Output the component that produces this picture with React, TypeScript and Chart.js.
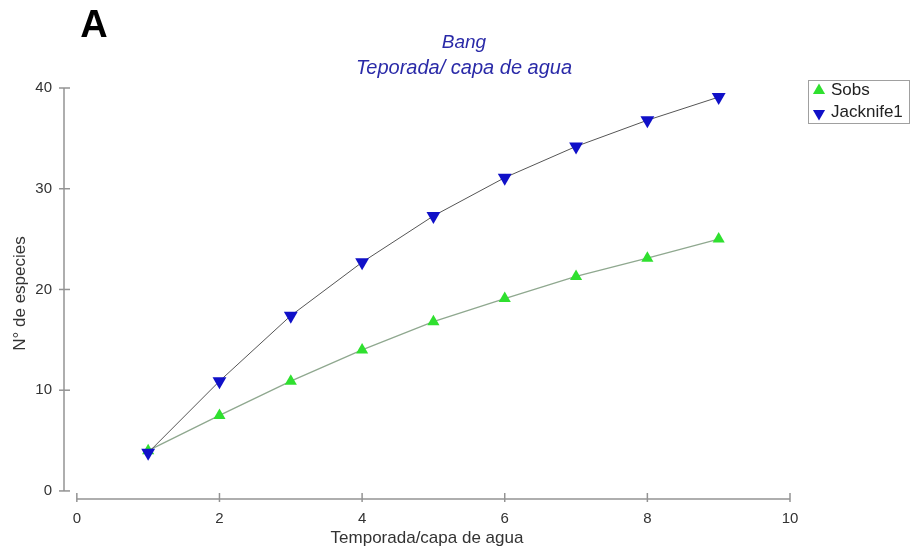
import React, { useEffect, useRef } from "react";
import { Chart, registerables } from "chart.js";

Chart.register(...registerables);

const xValues = [1, 2, 3, 4, 5, 6, 7, 8, 9];
const sobs = [4.0, 7.5, 10.9, 14.0, 16.8, 19.1, 21.3, 23.1, 25.0];
const jacknife1 = [3.8, 10.9, 17.4, 22.7, 27.3, 31.1, 34.2, 36.8, 39.1];
const seriesNames = ["Sobs", "Jacknife1"];
const panelLetter = "A";
const titleText = "Bang";
const subtitleText = "Teporada/ capa de agua";
const xTitle = "Temporada/capa de agua";
const yTitle = "N° de especies";
const xTicks = [0, 2, 4, 6, 8, 10];
const yTicks = [0, 10, 20, 30, 40];

const FONT = "'Liberation Sans', Arial, sans-serif";

function tri(ctx: CanvasRenderingContext2D, x: number, y: number, r: number, down: boolean, color: string) {
  ctx.save();
  ctx.fillStyle = color;
  ctx.beginPath();
  const s = down ? -1 : 1;
  ctx.moveTo(x, y - s * r);
  ctx.lineTo(x - r * 0.866, y + s * r * 0.5);
  ctx.lineTo(x + r * 0.866, y + s * r * 0.5);
  ctx.closePath();
  ctx.fill();
  ctx.restore();
}

const decorPlugin = {
  id: "decor",
  beforeDatasetsDraw(chart: any) {
    const ctx = chart.ctx as CanvasRenderingContext2D;
    const xs = chart.scales.x;
    const ys = chart.scales.y;
    const area = chart.chartArea;
    ctx.save();
    ctx.strokeStyle = "#939393";
    ctx.lineWidth = 1.5;
    const ax = area.left;
    ctx.beginPath();
    ctx.moveTo(ax, ys.getPixelForValue(yTicks[yTicks.length - 1]));
    ctx.lineTo(ax, ys.getPixelForValue(yTicks[0]));
    ctx.stroke();
    yTicks.forEach((v) => {
      const p = ys.getPixelForValue(v);
      ctx.beginPath();
      ctx.moveTo(ax - 5, p);
      ctx.lineTo(ax + 6, p);
      ctx.stroke();
    });
    const ay = area.bottom;
    ctx.beginPath();
    ctx.moveTo(xs.getPixelForValue(xTicks[0]), ay);
    ctx.lineTo(xs.getPixelForValue(xTicks[xTicks.length - 1]), ay);
    ctx.stroke();
    xTicks.forEach((v) => {
      const p = xs.getPixelForValue(v);
      ctx.beginPath();
      ctx.moveTo(p, ay - 6);
      ctx.lineTo(p, ay + 3);
      ctx.stroke();
    });
    ctx.restore();
  },
  afterDraw(chart: any) {
    const ctx = chart.ctx as CanvasRenderingContext2D;
    ctx.save();
    ctx.fillStyle = "#000";
    ctx.font = `bold 38px ${FONT}`;
    ctx.textAlign = "center";
    ctx.textBaseline = "alphabetic";
    ctx.fillText(panelLetter, 94, 37);
    ctx.fillStyle = "#2a2aa8";
    ctx.textAlign = "center";
    ctx.font = `italic 19px ${FONT}`;
    ctx.fillText(titleText, 464, 48);
    ctx.font = `italic 20px ${FONT}`;
    ctx.fillText(subtitleText, 464, 74);
    ctx.strokeStyle = "#a0a0a0";
    ctx.lineWidth = 1;
    ctx.strokeRect(808.5, 80.5, 101, 43);
    ctx.font = `17px ${FONT}`;
    ctx.textAlign = "left";
    ctx.textBaseline = "middle";
    const ds = chart.data.datasets;
    ds.forEach((d: any, i: number) => {
      const cy = 90.5 + i * 21.5;
      tri(ctx, 819, cy + (i === 1 ? 1.5 : 0), 7, i === 1, d.backgroundColor);
      ctx.fillStyle = "#222";
      ctx.fillText(d.label, 831, cy);
    });
    ctx.restore();
  },
};

export default function App() {
  const ref = useRef<HTMLCanvasElement | null>(null);
  useEffect(() => {
    if (!ref.current) return;
    const chart = new Chart(ref.current, {
      type: "line",
      data: {
        datasets: [
          {
            label: seriesNames[0],
            data: xValues.map((x, i) => ({ x, y: sobs[i] })),
            borderColor: "#8fa88f",
            borderWidth: 1.3,
            backgroundColor: "#2fe02f",
            pointBackgroundColor: "#2fe02f",
            pointBorderColor: "#2fe02f",
            pointStyle: "triangle",
            pointRadius: 7,
            pointBorderWidth: 0,
            tension: 0,
            order: 1,
          },
          {
            label: seriesNames[1],
            data: xValues.map((x, i) => ({ x, y: jacknife1[i] })),
            borderColor: "#555555",
            borderWidth: 1,
            backgroundColor: "#1010c8",
            pointBackgroundColor: "#1010c8",
            pointBorderColor: "#1010c8",
            pointStyle: "triangle",
            pointRotation: 180,
            pointRadius: 8,
            pointBorderWidth: 0,
            tension: 0,
            order: 0,
          },
        ],
      },
      options: {
        animation: false,
        responsive: false,
        maintainAspectRatio: false,
        layout: { padding: { left: 0, top: 88, right: 121, bottom: 0 } },
        plugins: {
          legend: { display: false },
          title: { display: false },
          tooltip: { enabled: false },
        },
        scales: {
          x: {
            type: "linear",
            min: -0.18,
            max: 10,
            grid: { display: false, drawTicks: false },
            border: { display: false },
            afterFit: (s: any) => {
              s.height = 56;
            },
            afterBuildTicks: (s: any) => {
              s.ticks = xTicks.map((v) => ({ value: v }));
            },
            ticks: {
              padding: 11,
              color: "#333",
              font: { family: FONT, size: 15 },
            },
            title: {
              display: true,
              text: xTitle,
              color: "#333",
              font: { family: FONT, size: 17 },
              padding: { top: 0, bottom: 6 },
            },
          },
          y: {
            type: "linear",
            min: -0.8,
            max: 40,
            grid: { display: false, drawTicks: false },
            border: { display: false },
            afterFit: (s: any) => {
              s.width = 64;
            },
            afterBuildTicks: (s: any) => {
              s.ticks = yTicks.map((v) => ({ value: v }));
            },
            ticks: {
              padding: 12,
              color: "#333",
              font: { family: FONT, size: 15 },
            },
            title: {
              display: true,
              text: yTitle,
              color: "#333",
              font: { family: FONT, size: 17 },
              padding: { top: 10, bottom: 0 },
            },
          },
        },
      },
      plugins: [decorPlugin],
    } as any);
    return () => chart.destroy();
  }, []);
  return (
    <div style={{ position: "fixed", left: 0, top: 0, width: 911, height: 555, background: "#fff" }}>
      <canvas ref={ref} width={911} height={555} style={{ width: 911, height: 555, display: "block" }} />
    </div>
  );
}
